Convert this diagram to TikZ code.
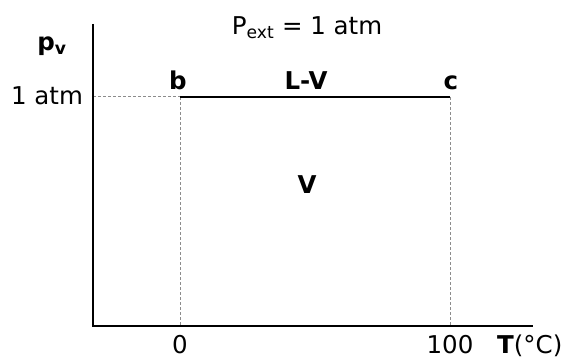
\documentclass[tikz,border=0pt]{standalone}
\usepackage{fontspec}
\setmainfont{DejaVu Sans}
\usepackage{xcolor}
\usepackage{tikz}
\usetikzlibrary{positioning}
\definecolor{guide}{HTML}{8C8C8C}

\begin{document}
\begin{tikzpicture}[
    x=1pt, y=-1pt,
    font=\fontsize{24.5}{28}\selectfont,
    axis/.style={draw=black, line width=2.2pt, line join=miter},
    guideline/.style={draw=guide, line width=1pt, dash pattern=on 3pt off 2pt},
    tieline/.style={draw=black, line width=2.2pt},
    lbl/.style={inner sep=0pt, anchor=base},
  ]
  \useasboundingbox (0,0) rectangle (569,358);
  % axes and reference points
  \coordinate (ytop) at (93,24);
  \coordinate (origin) at (93,326);
  \coordinate (xend) at (533,326);
  \coordinate (ya) at (93,97);
  \coordinate (b) at (180,97);
  \coordinate (c) at (450,97);
  \coordinate (b0) at (180,326);
  \coordinate (c0) at (450,326);
  \draw[guideline] (ya) -- (b);
  \draw[guideline] (b) -- (b0);
  \draw[guideline] (c) -- (c0);
  \draw[axis] (ytop) -- (origin) -- (xend);
  \draw[tieline] (b) -- (c);
  % labels
  \node[lbl] (pext) at (307,35) {P\textsubscript{ext} = 1 atm};
  \node[lbl] (pv) at (52,51) {\textbf{p}\textsubscript{\textbf{v}}};
  \node[lbl] (patm) at (47,105) {1 atm};
  \node[lbl] (lb) at (178,90) {\textbf{b}};
  \node[lbl] (lv) at (306,90) {\textbf{L-V}};
  \node[lbl] (lc) at (451,90) {\textbf{c}};
  \node[lbl] (vap) at (307,193) {\textbf{V}};
  \node[lbl] (t0) at (180,353) {0};
  \node[lbl] (t100) at (450,353) {100};
  \node[lbl, anchor=base west] (tunit) at (497,353) {\textbf{T}(°C)};
\end{tikzpicture}
\end{document}
